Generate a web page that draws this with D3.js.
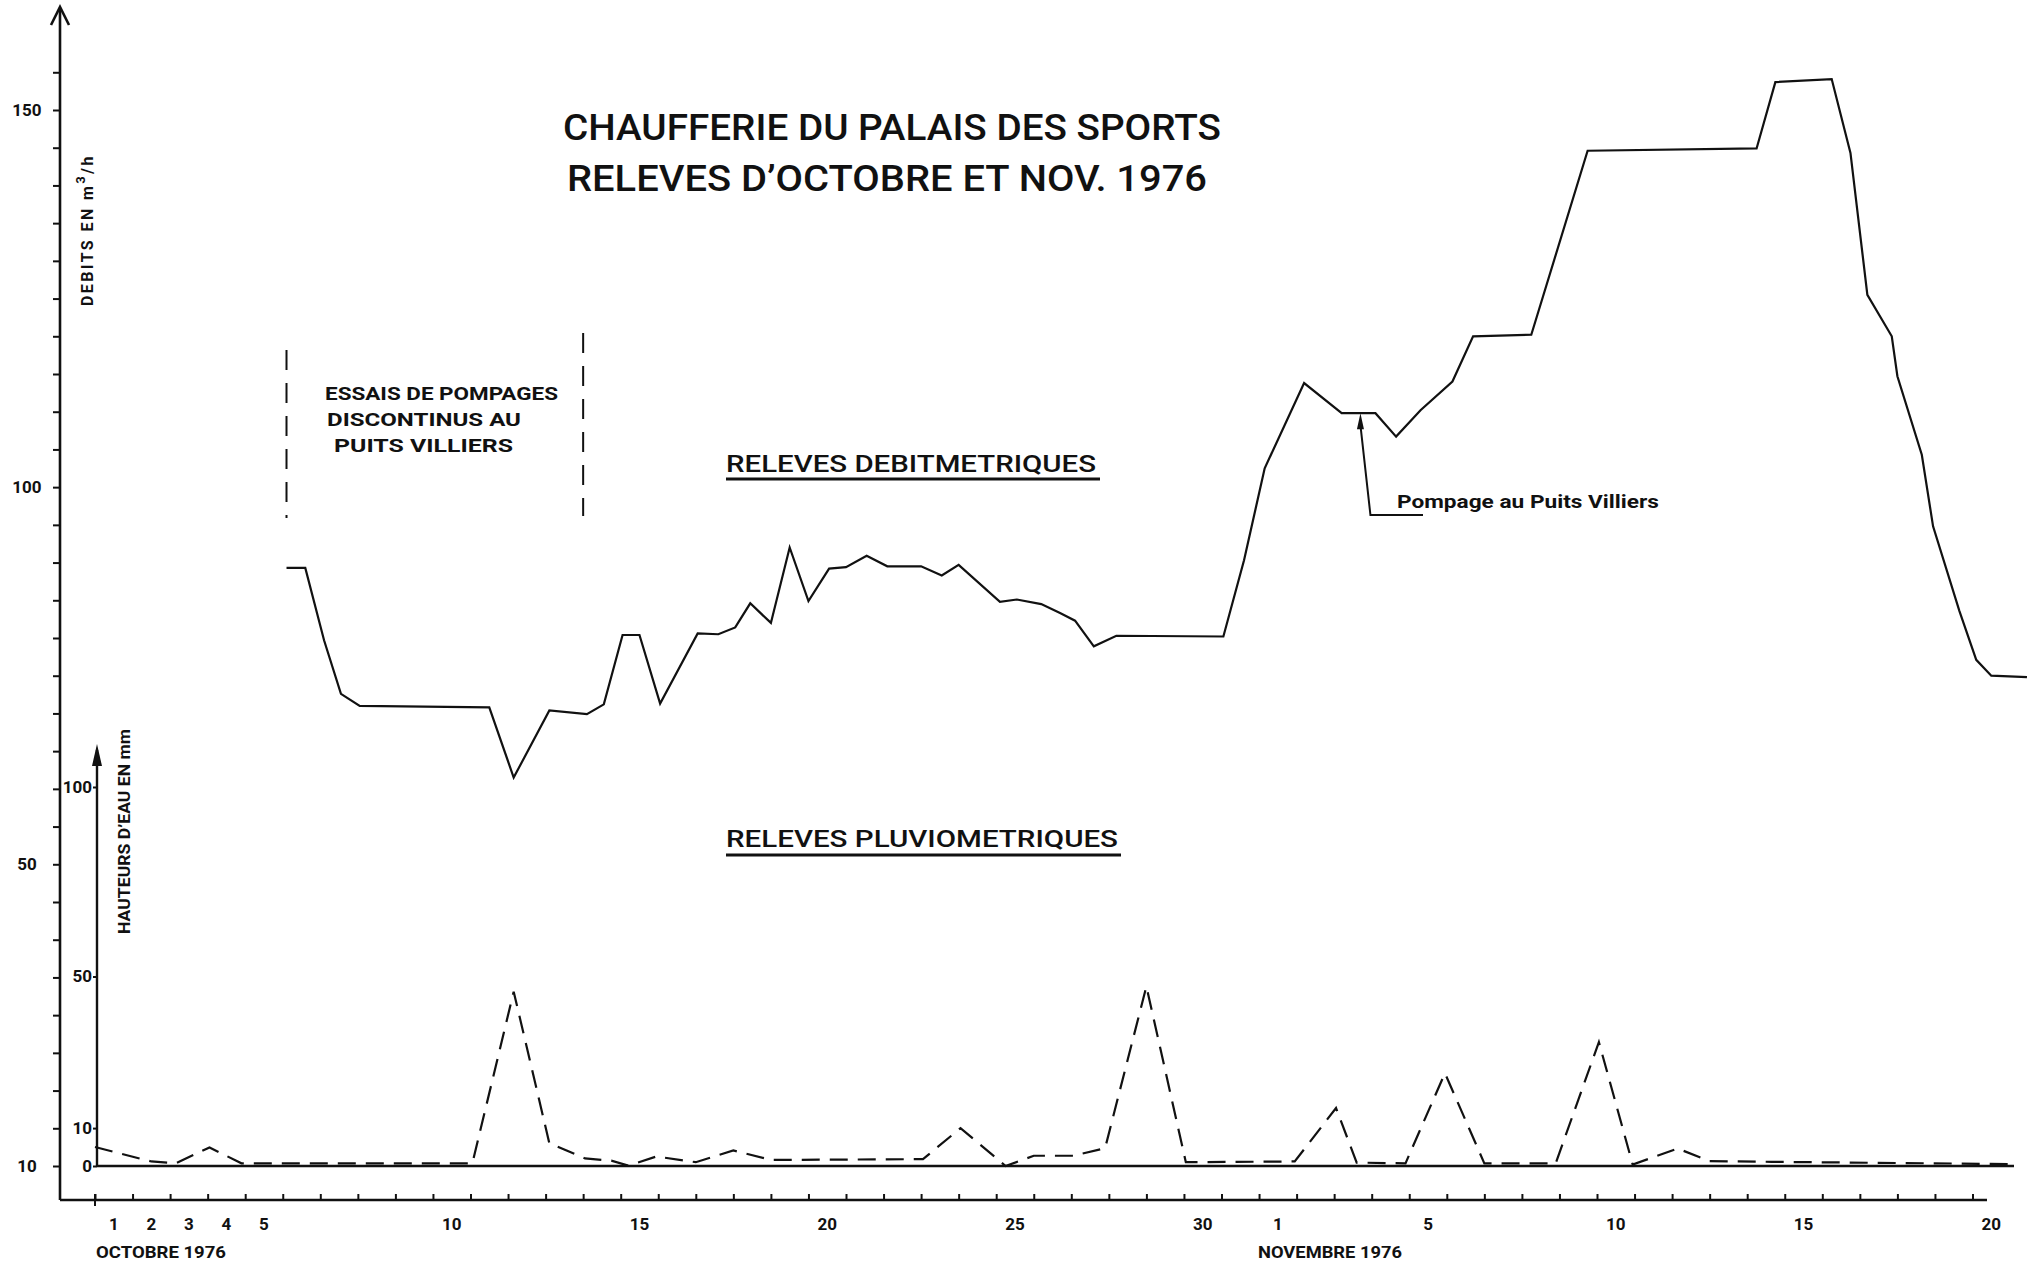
<!DOCTYPE html>
<html>
<head>
<meta charset="utf-8">
<script src="https://cdn.jsdelivr.net/npm/d3@7"></script>
<style>
  body { margin: 0; background: #fff; }
  text { font-family: Roboto, "DejaVu Sans", sans-serif; fill: #111; }
</style>
</head>
<body>
<div id="chart"></div>
<script>
// Releves debitmetriques (m3/h). Days counted from 1 Oct 1976 (32 = 1 Nov).
var debitDays = [5.6, 6.1, 6.6, 7.05, 7.55, 11.0, 11.65, 12.6, 13.6, 14.05, 14.55, 15.0, 15.55,
    16.55, 17.1, 17.55, 17.95, 18.5, 19.0, 19.5, 20.05, 20.5, 21.05, 21.6, 22.5, 23.05, 23.5,
    24.6, 25.05, 25.7, 26.2, 26.6, 27.1, 27.7, 30.55, 31.1, 31.65, 32.7, 33.7, 34.6, 35.15,
    35.8, 36.65, 37.2, 38.75, 40.25, 44.75, 45.25, 46.75, 47.25, 47.7, 48.35, 48.5, 49.15,
    49.45, 50.15, 50.6, 51.0, 51.95];
var debitValues = [89.3, 89.3, 79.7, 72.6, 71.0, 70.8, 61.5, 70.4, 69.9, 71.2, 80.4, 80.4, 71.3,
    80.6, 80.5, 81.4, 84.6, 82.0, 92.0, 84.9, 89.2, 89.4, 90.9, 89.5, 89.5, 88.3, 89.7,
    84.8, 85.1, 84.5, 83.3, 82.3, 78.9, 80.3, 80.2, 90.3, 102.5, 113.8, 109.8, 109.8, 106.7,
    110.2, 114.0, 120.0, 120.2, 144.6, 144.9, 153.7, 154.1, 144.3, 125.5, 120.0, 114.7, 104.3,
    94.8, 83.6, 77.1, 75.0, 74.8];

// Releves pluviometriques (mm)
var rainDays = [0.5, 2.0, 2.65, 3.55, 4.4, 10.55, 11.65, 12.6, 13.55, 14.25, 14.7, 15.45, 16.5,
    17.5, 18.5, 22.55, 23.55, 24.75, 25.5, 26.55, 27.4, 28.5, 29.55, 32.45, 33.55, 34.1, 35.4,
    36.45, 37.5, 39.4, 40.55, 41.45, 42.65, 43.5, 45.15, 51.6];
var rainValues = [5.0, 1.2, 0.7, 4.9, 0.7, 0.7, 46.0, 6.0, 2.0, 1.4, 0.1, 2.5, 1.0,
    4.1, 1.6, 1.8, 10.0, 0.0, 2.7, 2.7, 4.7, 47.4, 1.0, 1.2, 15.3, 0.9, 0.7,
    24.5, 0.7, 0.7, 32.7, 0.4, 4.6, 1.3, 1.1, 0.5];

var octoberLabels = [1, 2, 3, 4, 5, 10, 15, 20, 25, 30];
var novemberLabels = [1, 5, 10, 15, 20];
var debitTickLabels = [150, 100, 50, 10];
var rainTickLabels = [100, 50, 10, 0];

// pumping trials bracket and pumping arrow (day, value)
var essaisDays = [5.6, 13.5];
var pompageDay = 34.2, pompageValue = 109.8;

var width = 2030, height = 1265;

var svg = d3.select("#chart").append("svg")
    .attr("width", width)
    .attr("height", height)
    .style("background", "#fff");

// day axis: each day is one interval between two ticks
var x = d3.scaleLinear().domain([0.5, 50.5]).range([95, 1972.5]);
var yDebit = d3.scaleLinear().domain([10, 150]).range([1166, 110]);
var yRain = d3.scaleLinear().domain([0, 100]).range([1166, 787]);

var axisX = 60, rainAxisX = 97, baseY = 1200;
var ink = "#111";

// main debit axis with arrow
svg.append("line").attr("x1", axisX).attr("x2", axisX).attr("y1", baseY).attr("y2", 8)
    .attr("stroke", ink).attr("stroke-width", 2.6);
svg.append("path").attr("d", "M" + (axisX - 9) + ",25 L" + axisX + ",7 L" + (axisX + 9) + ",25")
    .attr("fill", "none").attr("stroke", ink).attr("stroke-width", 2.6);

var gDebit = svg.append("g").attr("transform", "translate(" + axisX + ",0)")
    .call(d3.axisLeft(yDebit).tickValues(d3.range(10, 156, 5)).tickSize(7).tickFormat(""));
gDebit.select(".domain").remove();
gDebit.selectAll("line").attr("stroke", ink).attr("stroke-width", 2);

svg.selectAll(".debitLabel").data(debitTickLabels).enter().append("text")
    .attr("class", "debitLabel")
    .attr("x", 27)
    .attr("y", function(d){ return yDebit(d) + 6; })
    .attr("text-anchor", "middle")
    .style("font-size", "17px").style("font-weight", 700)
    .text(function(d){ return d; });

var debitTitle = svg.append("text")
    .attr("transform", "translate(93,306) rotate(-90)")
    .style("font-size", "16px").style("font-weight", 700)
    .attr("letter-spacing", 2.4);
debitTitle.append("tspan").text("DEBITS EN m");
debitTitle.append("tspan").attr("dy", -8).style("font-size", "13px").text("3");
debitTitle.append("tspan").attr("dy", 8).text("/h");

// rain axis with arrow
svg.append("line").attr("x1", rainAxisX).attr("x2", rainAxisX).attr("y1", yRain(0)).attr("y2", 750)
    .attr("stroke", ink).attr("stroke-width", 2.4);
svg.append("path").attr("d", "M" + (rainAxisX - 5) + ",766 L" + rainAxisX + ",744 L" + (rainAxisX + 5) + ",766 Z")
    .attr("fill", ink);

var gRain = svg.append("g").attr("transform", "translate(" + rainAxisX + ",0)")
    .call(d3.axisLeft(yRain).tickValues(rainTickLabels).tickSize(4).tickPadding(1));
gRain.select(".domain").remove();
gRain.selectAll("line").attr("stroke", ink).attr("stroke-width", 2);
gRain.selectAll("text").attr("fill", ink)
    .style("font-size", "17px").style("font-weight", 700)
    .style("font-family", "Roboto, sans-serif");

svg.append("text")
    .attr("transform", "translate(130,934) rotate(-90)")
    .style("font-size", "16px").style("font-weight", 700)
    .attr("textLength", 205).attr("lengthAdjust", "spacingAndGlyphs")
    .text("HAUTEURS D\u2019EAU EN mm");

// day axis
svg.append("line").attr("x1", axisX).attr("x2", 1987).attr("y1", baseY).attr("y2", baseY)
    .attr("stroke", ink).attr("stroke-width", 2.6);
var gDays = svg.append("g").attr("transform", "translate(0," + baseY + ")")
    .call(d3.axisBottom(x).tickValues(d3.range(0.5, 50.6, 1)).tickSize(-6).tickFormat(""));
gDays.select(".domain").remove();
gDays.selectAll("line").attr("stroke", ink).attr("stroke-width", 2);
svg.append("line").attr("x1", x(0.5)).attr("x2", x(0.5)).attr("y1", baseY - 6).attr("y2", baseY + 6)
    .attr("stroke", ink).attr("stroke-width", 2);

var dayLabels = octoberLabels.map(function(d){ return {day: d, label: d}; })
    .concat(novemberLabels.map(function(d){ return {day: d + 31, label: d}; }));
svg.selectAll(".dayLabel").data(dayLabels).enter().append("text")
    .attr("class", "dayLabel")
    .attr("x", function(d){ return x(d.day); })
    .attr("y", 1230)
    .attr("text-anchor", "middle")
    .style("font-size", "17px").style("font-weight", 700)
    .text(function(d){ return d.label; });

svg.append("text").attr("x", 96).attr("y", 1258)
    .style("font-size", "17px").style("font-weight", 700)
    .attr("textLength", 130).attr("lengthAdjust", "spacingAndGlyphs")
    .text("OCTOBRE 1976");
svg.append("text").attr("x", 1258).attr("y", 1258)
    .style("font-size", "17px").style("font-weight", 700)
    .attr("textLength", 144).attr("lengthAdjust", "spacingAndGlyphs")
    .text("NOVEMBRE 1976");

// rain zero line
svg.append("line").attr("x1", rainAxisX).attr("x2", 2014).attr("y1", yRain(0)).attr("y2", yRain(0))
    .attr("stroke", ink).attr("stroke-width", 2.6);

// rain curve (dashed)
var rainLine = d3.line()
    .x(function(d, i){ return x(rainDays[i]); })
    .y(function(d){ return yRain(d); });
svg.append("path").datum(rainValues)
    .attr("d", rainLine)
    .attr("fill", "none").attr("stroke", ink).attr("stroke-width", 2.2)
    .attr("stroke-dasharray", "18,10");

// debit curve
var debitLine = d3.line()
    .x(function(d, i){ return x(debitDays[i]); })
    .y(function(d){ return yDebit(d); });
svg.append("path").datum(debitValues)
    .attr("d", debitLine)
    .attr("fill", "none").attr("stroke", ink).attr("stroke-width", 2.2)
    .attr("stroke-linejoin", "miter");

// title
svg.append("text").attr("x", 563).attr("y", 140)
    .style("font-size", "36px").style("font-weight", 500)
    .attr("textLength", 658).attr("lengthAdjust", "spacingAndGlyphs")
    .text("CHAUFFERIE DU PALAIS DES SPORTS");
svg.append("text").attr("x", 567).attr("y", 191)
    .style("font-size", "36px").style("font-weight", 500)
    .attr("textLength", 640).attr("lengthAdjust", "spacingAndGlyphs")
    .text("RELEVES D\u2019OCTOBRE ET NOV. 1976");

// pumping trials bracket
svg.append("line").attr("x1", x(essaisDays[0])).attr("x2", x(essaisDays[0]))
    .attr("y1", 350).attr("y2", 518)
    .attr("stroke", ink).attr("stroke-width", 2).attr("stroke-dasharray", "20,13");
svg.append("line").attr("x1", x(essaisDays[1])).attr("x2", x(essaisDays[1]))
    .attr("y1", 333).attr("y2", 516)
    .attr("stroke", ink).attr("stroke-width", 2).attr("stroke-dasharray", "20,13");

var essaisLines = [["ESSAIS DE POMPAGES", 325, 400, 233], ["DISCONTINUS  AU", 327, 426, 194], ["PUITS VILLIERS", 334, 452, 179]];
svg.selectAll(".essais").data(essaisLines).enter().append("text")
    .attr("class", "essais")
    .attr("x", function(d){ return d[1]; })
    .attr("y", function(d){ return d[2]; })
    .attr("textLength", function(d){ return d[3]; })
    .attr("lengthAdjust", "spacingAndGlyphs")
    .style("font-size", "19px").style("font-weight", 700)
    .text(function(d){ return d[0]; });

// section headings
svg.append("text").attr("x", 726).attr("y", 472)
    .style("font-size", "24px").style("font-weight", 500)
    .attr("textLength", 370).attr("lengthAdjust", "spacingAndGlyphs")
    .text("RELEVES DEBITMETRIQUES");
svg.append("line").attr("x1", 726).attr("x2", 1100).attr("y1", 479).attr("y2", 479)
    .attr("stroke", ink).attr("stroke-width", 3);
svg.append("text").attr("x", 726).attr("y", 847)
    .style("font-size", "24px").style("font-weight", 500)
    .attr("textLength", 392).attr("lengthAdjust", "spacingAndGlyphs")
    .text("RELEVES PLUVIOMETRIQUES");
svg.append("line").attr("x1", 726).attr("x2", 1121).attr("y1", 855).attr("y2", 855)
    .attr("stroke", ink).attr("stroke-width", 3);

// pumping note with leader arrow
var px = x(pompageDay), py = yDebit(pompageValue);
svg.append("path")
    .attr("d", "M" + px + "," + (py + 12) + " L" + (px + 10) + ",515 L1423,515")
    .attr("fill", "none").attr("stroke", ink).attr("stroke-width", 2);
svg.append("path")
    .attr("d", "M" + px + "," + py + " L" + (px - 3.5) + "," + (py + 16) + " L" + (px + 3.5) + "," + (py + 16) + " Z")
    .attr("fill", ink);
svg.append("text").attr("x", 1397).attr("y", 508)
    .style("font-size", "19px").style("font-weight", 700)
    .attr("textLength", 262).attr("lengthAdjust", "spacingAndGlyphs")
    .text("Pompage au Puits Villiers");
</script>
</body>
</html>
